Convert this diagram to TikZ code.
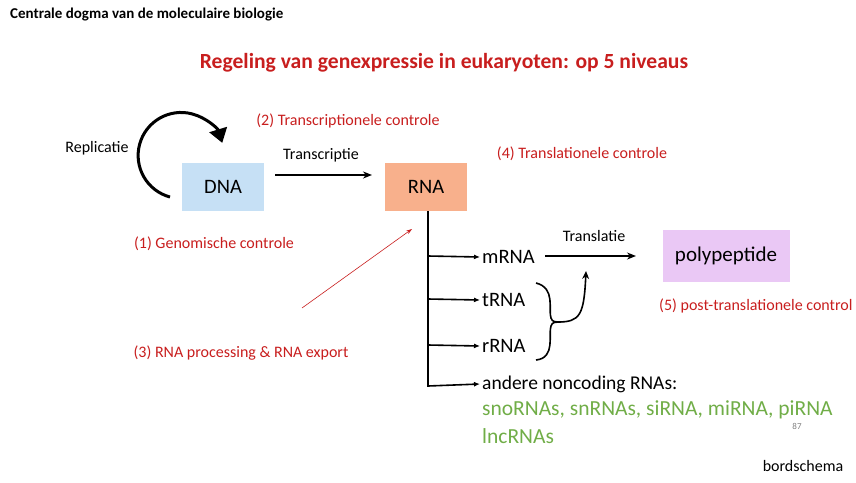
\documentclass[tikz,border=0pt]{standalone}
\usepackage{fontspec}
\setmainfont{Carlito}
\usetikzlibrary{arrows.meta}
\definecolor{dnab}{RGB}{198,224,245}
\definecolor{rnab}{RGB}{248,176,140}
\definecolor{polyb}{RGB}{234,200,245}
\definecolor{redt}{RGB}{200,30,30}
\definecolor{greent}{RGB}{112,173,71}
\begin{document}
\begin{tikzpicture}[x=1pt,y=-1pt,
  box/.style={draw=none,minimum width=82pt,minimum height=48pt,font=\fontsize{20.5}{24}\selectfont,inner sep=0pt},
  lbl/.style={font=\fontsize{16}{18}\selectfont,inner sep=0pt},
  ctl/.style={lbl,text=redt},
  rna/.style={font=\fontsize{20.5}{24}\selectfont,inner sep=0pt,anchor=west},
  br/.style={line width=1.6pt,-{Latex[length=6pt,width=5pt]}},
  arr/.style={line width=1.6pt,-{Stealth[length=9pt,width=7pt]}}]
\useasboundingbox (0,0) rectangle (856,482);
\node[anchor=west,font=\bfseries\fontsize{15}{17}\selectfont,inner sep=0pt] (hdr) at (10,15) {Centrale dogma van de moleculaire biologie};
\node[font=\bfseries\fontsize{21.6}{25}\selectfont,text=redt,inner sep=0pt] (title) at (444,63) {Regeling van genexpressie in eukaryoten: op 5 niveaus};
\node[box,fill=dnab] (dna) at (223,187) {DNA};
\node[box,fill=rnab] (rna) at (426,187) {RNA};
\node[box,fill=polyb,minimum width=127pt,minimum height=52pt,font=\fontsize{21}{24}\selectfont] (poly) at (726,256) {polypeptide};
\coordinate (t1) at (275,175);
\coordinate (t2) at (372,175);
\draw[arr] (t1) -- (t2);
\node[lbl] (trl) at (321,155) {Transcriptie};
\coordinate (rs) at (170,197);
\draw[line width=3pt,-{Triangle[length=14pt,width=18pt]}] (rs) arc[start angle=105,end angle=343,radius=43] coordinate (re);
\node[lbl] (rep) at (97,148) {Replicatie};
\node[ctl] (c2) at (348,121) {(2) Transcriptionele controle};
\node[ctl] (c4) at (582,154) {(4) Translationele controle};
\node[ctl] (c1) at (214,244) {(1) Genomische controle};
\node[ctl] (c3) at (241,353) {(3) RNA processing \& RNA export};
\node[ctl,anchor=west] (c5) at (659,306) {(5) post-translationele control};
\coordinate (c3s) at (302,308);
\coordinate (c3e) at (412,229);
\draw[redt,line width=0.6pt,-{Stealth[length=6pt,width=4pt]}] (c3s) -- (c3e);
\node[rna] (m) at (482,257) {mRNA};
\node[rna] (t) at (482,300) {tRNA};
\node[rna] (r) at (482,346) {rRNA};
\node[rna,font=\fontsize{19.5}{23}\selectfont] (a) at (482,384) {andere noncoding RNAs:};
\node[rna,text=greent,font=\fontsize{21.5}{25}\selectfont] (g1) at (482,410) {snoRNAs, snRNAs, siRNA, miRNA, piRNA};
\node[rna,text=greent,font=\fontsize{21.5}{25}\selectfont] (g2) at (482,436) {lncRNAs};
\node[font=\fontsize{9}{10}\selectfont,text=gray,inner sep=0pt] (n87) at (797,426) {87};
\node[lbl] (bs) at (803,466) {bordschema};
\coordinate (vb) at (428,386.8);
\draw[line width=1.6pt] (428,211) -- (vb);
\draw[br] (428,386) -- ([xshift=-2pt]a.west);
\draw[br] (428,256) -- ([xshift=-2pt]m.west);
\draw[br] (428,299) -- ([xshift=-2pt]t.west);
\draw[br] (428,345) -- ([xshift=-2pt]r.west);
\draw[arr,line width=1.4pt] (545,256) -- (636,256);
\node[lbl] (tll) at (594,236) {Translatie};
\draw[line width=1.6pt] (536,283) .. controls (556,288) and (548,310) .. (551,318)
  .. controls (552,322) and (556,322) .. (558,322)
  .. controls (556,322) and (552,322) .. (551,326)
  .. controls (548,334) and (556,358) .. (536,360);
\draw[line width=1.6pt,-{Stealth[length=8pt,width=7pt]}] (558,322) .. controls (580,322) and (584,315) .. (586,271);
\end{tikzpicture}
\end{document}
